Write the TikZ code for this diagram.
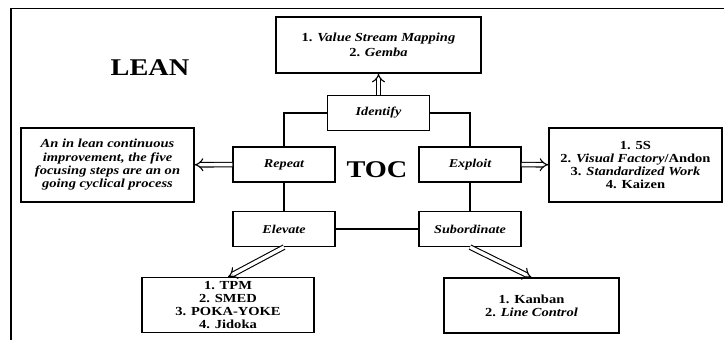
\documentclass[tikz,border=0pt]{standalone}
\usepackage{fontspec}
\setmainfont{Liberation Serif}[FakeStretch=1.18,
  BoldFont={Liberation Serif Bold}, BoldItalicFont={Liberation Serif Bold Italic}]
\usetikzlibrary{arrows.meta}

\begin{document}
\begin{tikzpicture}[x=1pt, y=-1pt,
  stepbox/.style={draw, line width=1.2pt, minimum width=102pt, minimum height=35pt, inner sep=1pt,
    font=\fontsize{12}{13}\selectfont\bfseries\itshape},
  listbox/.style={draw, line width=1.2pt, align=center, inner sep=1pt,
    font=\fontsize{12.3}{13.3}\selectfont\bfseries},
  hollow/.style={double, double distance=3.4pt, line width=1.1pt, -{Implies}},
  link/.style={line width=1.2pt},
  bigword/.style={font=\fontsize{24}{26}\selectfont\bfseries}]
\useasboundingbox (0,0) rectangle (724,340);
% frame
\draw[line width=1.4pt] (11,340) -- (11,8.5) -- (724,8.5);
\node[bigword] (lean) at (150,68) {LEAN};
\node[bigword] (toc) at (377,170) {TOC};
% the five focusing steps
\node[stepbox] (ident) at (378.5,113) {Identify};
\node[stepbox] (rep) at (284,164.5) {Repeat};
\node[stepbox] (exploit) at (470,164.5) {Exploit};
\node[stepbox] (elevate) at (284,229) {Elevate};
\node[stepbox] (subord) at (470,229) {Subordinate};
\draw[link] (ident.west) -| (rep.north);
\draw[link] (ident.east) -| (exploit.north);
\draw[link] (rep) -- (elevate);
\draw[link] (exploit) -- (subord);
\draw[link] (elevate) -- (subord);
% lean tools
\node[listbox, minimum width=205pt, minimum height=56pt] (vsm) at (378.5,45)
  {1. \textit{Value Stream Mapping}\\[1.5pt]2. \textit{Gemba}};
\node[listbox, minimum width=173pt, minimum height=74pt, font=\fontsize{12.3}{13.3}\selectfont\bfseries\itshape] (cycle) at (107.5,165)
  {An in lean continuous\\improvement, the five\\focusing steps are an on\\going cyclical process};
\node[listbox, minimum width=173pt, minimum height=74pt] (fives) at (635.5,165)
  {1. 5S\\2. \textit{Visual Factory}/Andon\\3. \textit{Standardized Work}\\4. Kaizen};
\node[listbox, minimum width=172pt, minimum height=55pt] (tpm) at (228,305)
  {1. TPM\\2. SMED\\3. POKA-YOKE\\4. Jidoka};
\node[listbox, minimum width=175pt, minimum height=55pt] (kanban) at (531.5,305.5)
  {1. Kanban\\2. \textit{Line Control}};
\draw[hollow] (ident) -- (vsm);
\draw[hollow] (rep) -- (cycle);
\draw[hollow] (exploit) -- (fives);
\draw[hollow] (elevate.south) -- (tpm.north);
\draw[hollow] (subord.south) -- (kanban.north);
\end{tikzpicture}
\end{document}
